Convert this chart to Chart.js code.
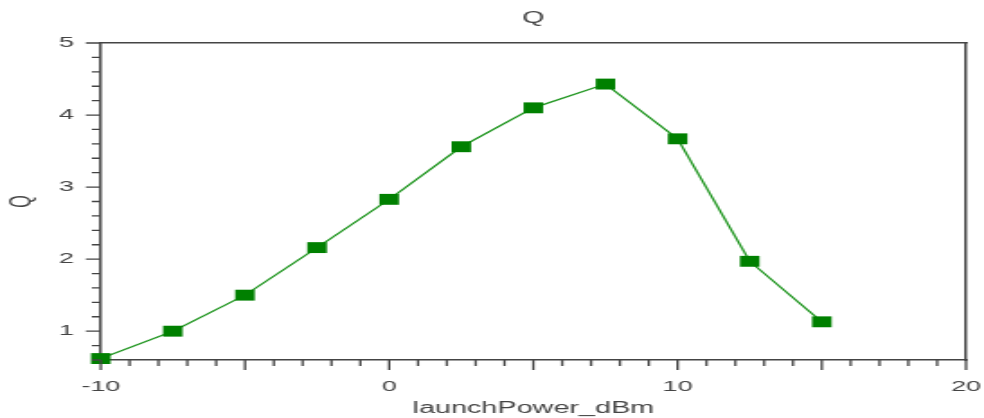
<!DOCTYPE html>
<html>
<head>
<meta charset="utf-8">
<script src="https://cdn.jsdelivr.net/npm/chart.js@4"></script>
<style>
    html, body { margin: 0; padding: 0; background: #fff; overflow: hidden; }
    #wrap { width: 547px; height: 418px; transform: scaleX(1.7989); transform-origin: 0 0; }
</style>
</head>
<body>
<div id="wrap"><canvas id="qChart" width="547" height="418"></canvas></div>
<script>
// data
const launchPower = [-10, -7.5, -5, -2.5, 0, 2.5, 5, 7.5, 10, 12.5, 15];
const qValues = [0.62, 1.0, 1.5, 2.16, 2.83, 3.56, 4.1, 4.43, 3.67, 1.97, 1.13];
const xTickLabels = [-10, 0, 10, 20];
const yTickLabels = [1, 2, 3, 4, 5];

const textColor = '#444';
const axisColor = '#444';
const font = { family: 'Liberation Sans, Arial, sans-serif', size: 15 };

// no extra room for edge labels, the box has fixed size
function noPad(scale) {
    scale.paddingLeft = 0;
    scale.paddingRight = 0;
    scale.paddingTop = 0;
    scale.paddingBottom = 0;
}

// tick marks drawn outside the box (major / minor)
const tickMarks = {
    id: 'tickMarks',
    afterDraw(chart) {
        const { ctx, chartArea, scales } = chart;
        ctx.save();
        ctx.strokeStyle = axisColor;
        ctx.lineWidth = 1.3;
        ctx.beginPath();
        for (let v = -10; v <= 20; v++) {
            const px = scales.x.getPixelForValue(v);
            const len = v % 5 === 0 ? 10 : 6;
            ctx.moveTo(px, chartArea.bottom);
            ctx.lineTo(px, chartArea.bottom + len);
        }
        for (let k = 3; k <= 25; k++) {
            const py = scales.y.getPixelForValue(k / 5);
            const len = k % 5 === 0 ? 8.3 : 5;
            ctx.moveTo(chartArea.left - len, py);
            ctx.lineTo(chartArea.left, py);
        }
        ctx.stroke();
        ctx.restore();
    }
};

const ctx = document.getElementById('qChart').getContext('2d');
const qChart = new Chart(ctx, {
    type: 'line',
    data: {
        datasets: [{
            label: 'Q',
            data: launchPower.map((x, i) => ({ x: x, y: qValues[i] })),
            borderColor: '#1f951f',
            borderWidth: 1.3,
            backgroundColor: '#008000',
            pointStyle: 'rect',
            pointRadius: 7.7,
            pointBorderWidth: 0,
            pointBackgroundColor: '#008000',
            tension: 0,
            fill: false,
            clip: false
        }]
    },
    options: {
        responsive: false,
        animation: false,
        layout: { padding: 0 },
        plugins: {
            legend: { display: false },
            tooltip: { enabled: false }
        },
        scales: {
            x: {
                type: 'linear',
                position: 'bottom',
                min: -10,
                max: 20,
                afterBuildTicks: scale => { scale.ticks = xTickLabels.map(v => ({ value: v })); },
                afterFit: scale => { scale.height = 58; noPad(scale); },
                grid: { display: false, drawTicks: false },
                border: { display: true, color: axisColor, width: 1.5 },
                ticks: { color: textColor, font: font, padding: 18, maxRotation: 0 },
                title: {
                    display: true,
                    text: 'launchPower_dBm',
                    color: textColor,
                    font: { family: font.family, size: 16 },
                    padding: { top: 0, bottom: 0 }
                }
            },
            x2: {
                type: 'linear',
                position: 'top',
                min: -10,
                max: 20,
                afterFit: scale => { scale.height = 43; noPad(scale); },
                grid: { display: false, drawTicks: false },
                border: { display: true, color: axisColor, width: 1.5 },
                ticks: { display: false },
                title: {
                    display: true,
                    text: 'Q',
                    color: textColor,
                    font: { family: font.family, size: 16 },
                    padding: { top: 9, bottom: 0 }
                }
            },
            y: {
                type: 'linear',
                position: 'left',
                min: 0.6,
                max: 5,
                afterBuildTicks: scale => { scale.ticks = yTickLabels.map(v => ({ value: v })); },
                afterFit: scale => { scale.width = 56; noPad(scale); },
                grid: { display: false, drawTicks: false },
                border: { display: true, color: axisColor, width: 1.5 },
                ticks: { color: textColor, font: font, padding: 15 },
                title: {
                    display: true,
                    text: 'Q',
                    color: textColor,
                    font: { family: font.family, size: 16 },
                    padding: { top: 3, bottom: 0 }
                }
            },
            y2: {
                type: 'linear',
                position: 'right',
                min: 0.6,
                max: 5,
                afterFit: scale => { scale.width = 10; noPad(scale); },
                grid: { display: false, drawTicks: false },
                border: { display: true, color: axisColor, width: 1.5 },
                ticks: { display: false }
            }
        }
    },
    plugins: [tickMarks]
});
</script>
</body>
</html>
